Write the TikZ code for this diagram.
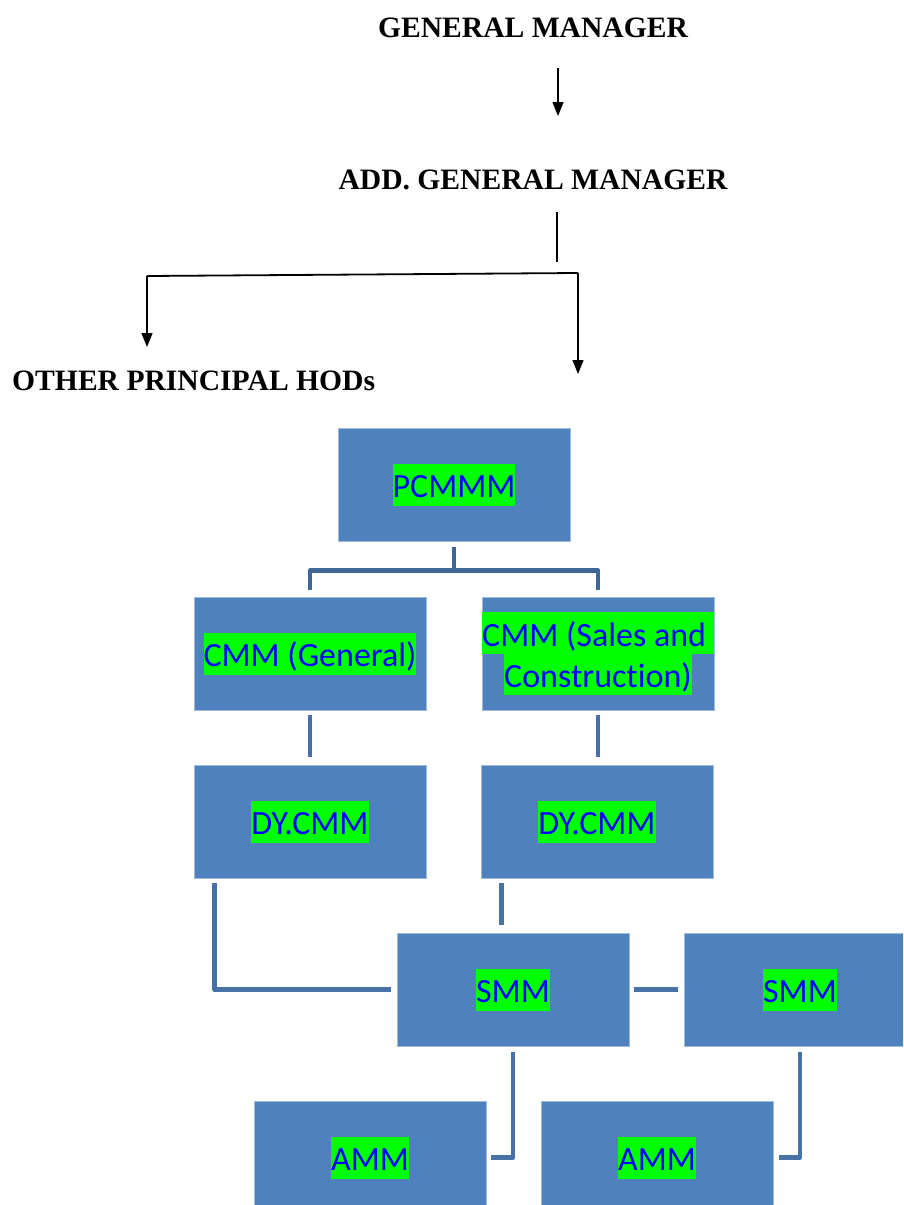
\documentclass[tikz,border=0pt]{standalone}
\usepackage{fontspec}
\setmainfont{Liberation Serif}
\newfontfamily\boxfont[Ligatures=NoCommon,RawFeature={-liga;-dlig;-clig}]{Carlito}
\usetikzlibrary{arrows.meta,calc}
\definecolor{boxblue}{RGB}{79,129,189}
\definecolor{boxedge}{RGB}{160,186,218}
\definecolor{connblue}{RGB}{70,114,168}
\definecolor{conndark}{RGB}{62,102,150}
\definecolor{hlgreen}{RGB}{0,255,0}
\definecolor{txtblue}{RGB}{0,0,255}
\newcommand{\hlt}[1]{{\setlength{\fboxsep}{0pt}\colorbox{hlgreen}{\rule[-8pt]{0pt}{42pt}#1}}}
\tikzset{
  orgbox/.style={draw=boxedge, line width=0.8pt, fill=boxblue, minimum width=232pt,
    minimum height=113pt, inner sep=0pt, text=txtblue, align=center,
    font=\boxfont\fontsize{34}{42}\selectfont},
  titletext/.style={font=\bfseries\fontsize{29.6}{34}\selectfont, inner sep=0pt},
  arr/.style={line width=1.4pt, -{Triangle[length=14pt,width=11pt]}},
  plain/.style={line width=1.4pt},
  conn/.style={draw=connblue, line width=4.5pt},
  conntop/.style={draw=conndark, line width=4.5pt}
}
\begin{document}
\begin{tikzpicture}[x=1pt,y=-1pt]
\useasboundingbox (0,0) rectangle (903,1205);
\clip (0,0) rectangle (903,1205);
% top titles
\node[titletext] (gm) at (533,27.5) {GENERAL MANAGER};
\node[titletext] (agm) at (533,179.5) {ADD. GENERAL MANAGER};
\node[titletext, anchor=west] (hod) at (12,381) {OTHER PRINCIPAL HODs};
\coordinate (g1) at (558,68);
\coordinate (g2) at (558,116);
\coordinate (a1) at (557,212);
\coordinate (a2) at (557,262);
\coordinate (hl) at (147,276);
\coordinate (hr) at (578,273);
\coordinate (hlend) at (147,347);
\coordinate (hrend) at (578,374);
\draw[arr] (g1) -- (g2);
\draw[plain] (a1) -- (a2);
\draw[line width=1.8pt] (hl) -- (hr);
\draw[arr] (hl) -- (hlend);
\draw[arr] (hr) -- (hrend);
% boxes
\node[orgbox] (pcm) at (454,484.5) {\hlt{PCMMM}};
\node[orgbox] (cmg) at (310,653.5) {\hlt{CMM (General)}};
\node[orgbox] (cms) at (598,653.5) {\raisebox{3pt}{\hlt{CMM (Sales and\ }}\\[-4pt]\hlt{Construc\kern0pt tion)}};
\node[orgbox] (dyl) at (310,821.5) {\hlt{DY.CMM}};
\node[orgbox] (dyr) at (597,821.5) {\hlt{DY.CMM}};
\node[orgbox] (smmc) at (513,989.5) {\hlt{SMM}};
\node[orgbox] (smmr) at (800,989.5) {\hlt{SMM}};
\node[orgbox] (amml) at (370,1157.5) {\hlt{AMM}};
\node[orgbox] (ammr) at (657,1157.5) {\hlt{AMM}};
% connectors
\draw[conntop, line join=round] ([yshift=-6pt]pcm.south) -- ++(0,23) -| ([xshift=-144pt,yshift=7pt]cmg.north -| pcm.south);
\draw[conntop, line join=round] ([yshift=-6pt]pcm.south) -- ++(0,23) -| ([yshift=7pt]cms.north);
\draw[conn] ([yshift=-5pt]cmg.south) -- ([yshift=8pt]dyl.north);
\draw[conn] ([yshift=-5pt]cms.south) -- ([yshift=8pt]dyr.north -| cms.south);
\draw[conn, line join=round] ([xshift=21pt,yshift=-5pt]dyl.south west) |- ([xshift=-6pt]smmc.west);
\draw[conn] ([xshift=21pt,yshift=-5pt]dyr.south west) -- ($(dyr.south west |- smmc.north)+(21,-8)$);
\draw[conn] ([xshift=5pt]smmc.east) -- ([xshift=-6pt]smmr.west);
\draw[conn, line join=round] ([yshift=-6pt]smmc.south) |- ([xshift=5pt]amml.east);
\draw[conn, line join=round] ([yshift=-6pt]smmr.south) |- ([xshift=6pt]ammr.east);
\end{tikzpicture}
\end{document}
